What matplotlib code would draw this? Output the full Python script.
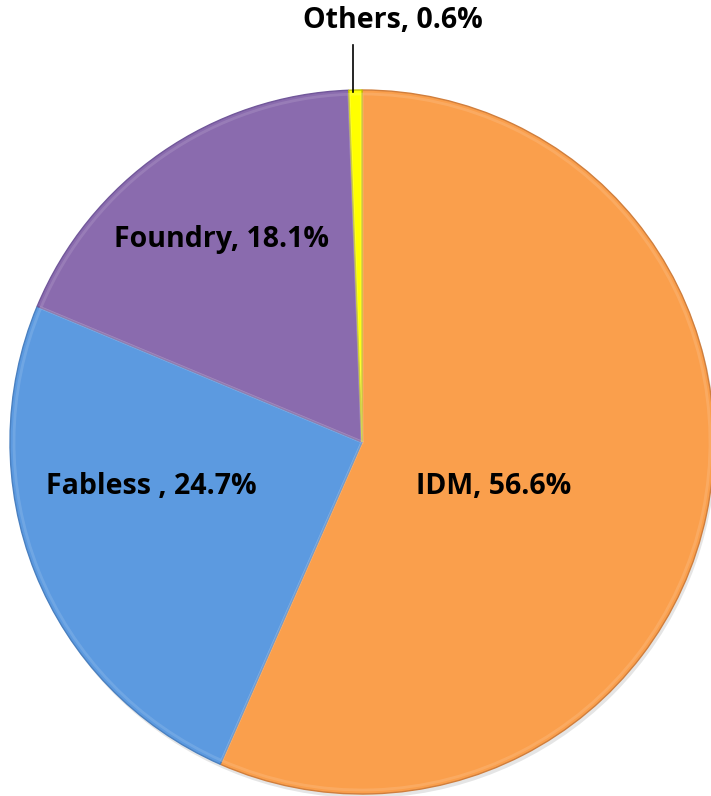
import matplotlib.pyplot as plt

# Market share by company type
labels = ['IDM', 'Fabless ', 'Foundry', 'Others']
shares = [56.6, 24.7, 18.1, 0.6]
colors = ['#FA9F4C', '#5C9AE0', '#8A6BAE', '#FFFF00']
edges = ['#D07E3C', '#4A80C0', '#71579A', '#C0C000']

W, H = 711, 796
fig = plt.figure(figsize=(W / 100, H / 100), dpi=100)
ax = fig.add_axes([0, 0, 1, 1])

cx, cy, R = 362, H - 442, 352

# soft shadow under the pie
shadow = plt.Circle((cx + 2, cy - 4), R, color='#000000', alpha=0.10, lw=0)
ax.add_patch(shadow)

wedges, _ = ax.pie(shares, colors=colors, startangle=90, counterclock=False,
                   center=(cx, cy), radius=R, frame=True,
                   wedgeprops=dict(linewidth=1.0))
for w, ec in zip(wedges, edges):
    w.set_edgecolor(ec)

# faint bevel highlight
ax.pie(shares, colors=['none'] * 4, startangle=90, counterclock=False,
       center=(cx, cy), radius=R - 4, frame=True,
       wedgeprops=dict(linewidth=2.0, edgecolor=(1, 1, 1, 0.12), fill=False))

ax.set_xlim(0, W)
ax.set_ylim(0, H)
ax.set_aspect('equal')
ax.axis('off')

font = dict(fontsize=20.5, fontweight='bold', family=['Open Sans', 'DejaVu Sans'],
            ha='center', va='center', color='black')
label_pos = [(494, 487), (151, 487), (222, 240), (393, 20)]
for name, val, (x, y) in zip(labels, shares, label_pos):
    ax.text(x, H - y, f'{name}, {val}%', **font)

# leader line for the tiny slice
ax.plot([353, 353], [H - 45, H - 92], color='black', lw=1.2)

fig.savefig('out.png', dpi=100)
